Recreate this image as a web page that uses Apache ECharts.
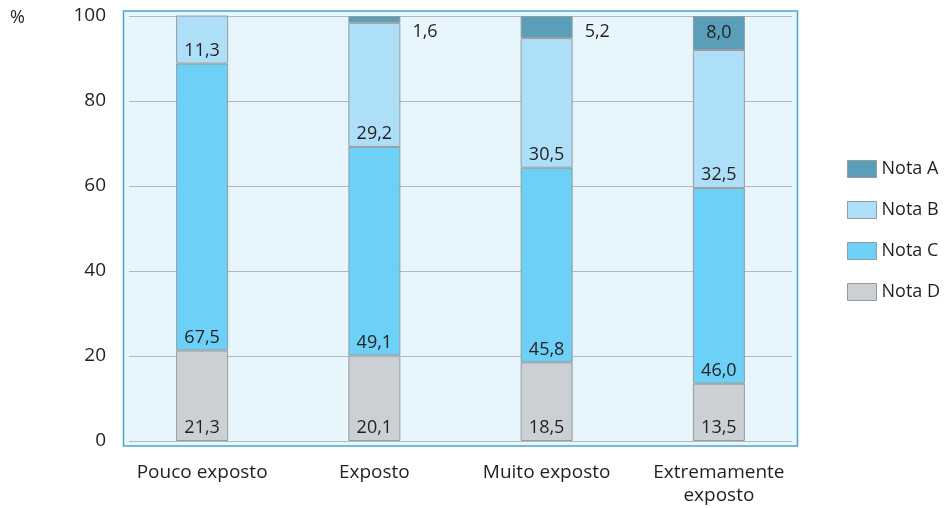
<!DOCTYPE html>
<html>
<head>
<meta charset="utf-8">
<script src="https://cdn.jsdelivr.net/npm/echarts@6/dist/echarts.min.js"></script>
<style>
  html, body { margin: 0; padding: 0; background: #ffffff; }
  #chart { width: 944px; height: 508px; }
</style>
</head>
<body>
<div id="chart"></div>
<script>
// Exposure categories and the share (%) of each grade
var categories = ['Pouco exposto', 'Exposto', 'Muito exposto', 'Extremamente\nexposto'];
var notaD = [21.3, 20.1, 18.5, 13.5];
var notaC = [67.5, 49.1, 45.8, 46.0];
var notaB = [11.3, 29.2, 30.5, 32.5];
var notaA = [null, 1.6, 5.2, 8.0];
var yTicks = [0, 20, 40, 60, 80, 100];

var FONT = '"Open Sans", sans-serif';
var TEXT = '#231f20';

function fmt(v) {
  return v == null ? '' : v.toFixed(1).replace('.', ',');
}

var labelBase = {
  show: true,
  color: TEXT,
  fontFamily: FONT,
  fontSize: 18,
  formatter: function (p) { return fmt(p.value); }
};

function bar(name, values, color, pos) {
  return {
    name: name,
    type: 'bar',
    stack: 'total',
    xAxisIndex: 1,
    yAxisIndex: 1,
    barWidth: 52,
    data: values,
    itemStyle: { color: color, borderColor: '#9a9a9a', borderWidth: 1 },
    label: Object.assign({}, labelBase, { position: pos, distance: 4 }),
    emphasis: { disabled: true }
  };
}

// Thin top segments get their label beside the bar instead of inside it
var notaAData = notaA.map(function (v) {
  if (v == null) return { value: null };
  if (v < 6) {
    return {
      value: v,
      label: { position: ['100%', 0], offset: [12, 7], align: 'left', verticalAlign: 'top' }
    };
  }
  return { value: v, label: { position: 'inside' } };
});

var chart = echarts.init(document.getElementById('chart'), null, { renderer: 'canvas' });

chart.setOption({
  animation: false,
  backgroundColor: '#ffffff',
  graphic: [
    {
      type: 'rect',
      z: -10,
      shape: { x: 123.5, y: 11, width: 674, height: 435 },
      style: { fill: '#e7f5fc', stroke: '#4aa6c9', lineWidth: 1.5 }
    },
    {
      type: 'text',
      left: 10,
      top: 9,
      style: { text: '%', fill: TEXT, font: '18px ' + FONT }
    }
  ],
  legend: {
    orient: 'vertical',
    left: 842,
    top: 155,
    itemWidth: 29,
    itemHeight: 17,
    itemGap: 23,
    icon: 'rect',
    data: ['Nota A', 'Nota B', 'Nota C', 'Nota D'],
    itemStyle: { borderColor: '#9a9a9a', borderWidth: 1 },
    textStyle: { color: TEXT, fontFamily: FONT, fontSize: 18 },
    selectedMode: false
  },
  grid: [
    { left: 129, right: 152, top: 16, bottom: 67 },
    { left: 116, right: 139, top: 16, bottom: 67 }
  ],
  xAxis: [
    { gridIndex: 0, type: 'value', show: false, min: 0, max: 1 },
    {
      gridIndex: 1,
      type: 'category',
      data: categories,
      axisLine: { show: false },
      axisTick: { show: false },
      axisLabel: {
        color: TEXT,
        fontFamily: FONT,
        fontSize: 19,
        margin: 20,
        lineHeight: 23,
        interval: 0
      }
    }
  ],
  yAxis: [
    {
      gridIndex: 0,
      type: 'value',
      min: yTicks[0],
      max: yTicks[yTicks.length - 1],
      interval: 20,
      axisLine: { show: false },
      axisTick: { show: false },
      splitLine: { show: true, lineStyle: { color: '#b3b9be', width: 1 } },
      axisLabel: { color: TEXT, fontFamily: FONT, fontSize: 19, margin: 23 }
    },
    {
      gridIndex: 1,
      type: 'value',
      min: 0,
      max: 100,
      interval: 20,
      show: false,
      splitLine: { show: false }
    }
  ],
  series: [
    bar('Nota D', notaD, '#cbd0d4', 'insideBottom'),
    bar('Nota C', notaC, '#6dd0f6', 'insideBottom'),
    bar('Nota B', notaB, '#addff9', 'insideBottom'),
    bar('Nota A', notaAData, '#5a9fb9', 'inside')
  ]
});
</script>
</body>
</html>
